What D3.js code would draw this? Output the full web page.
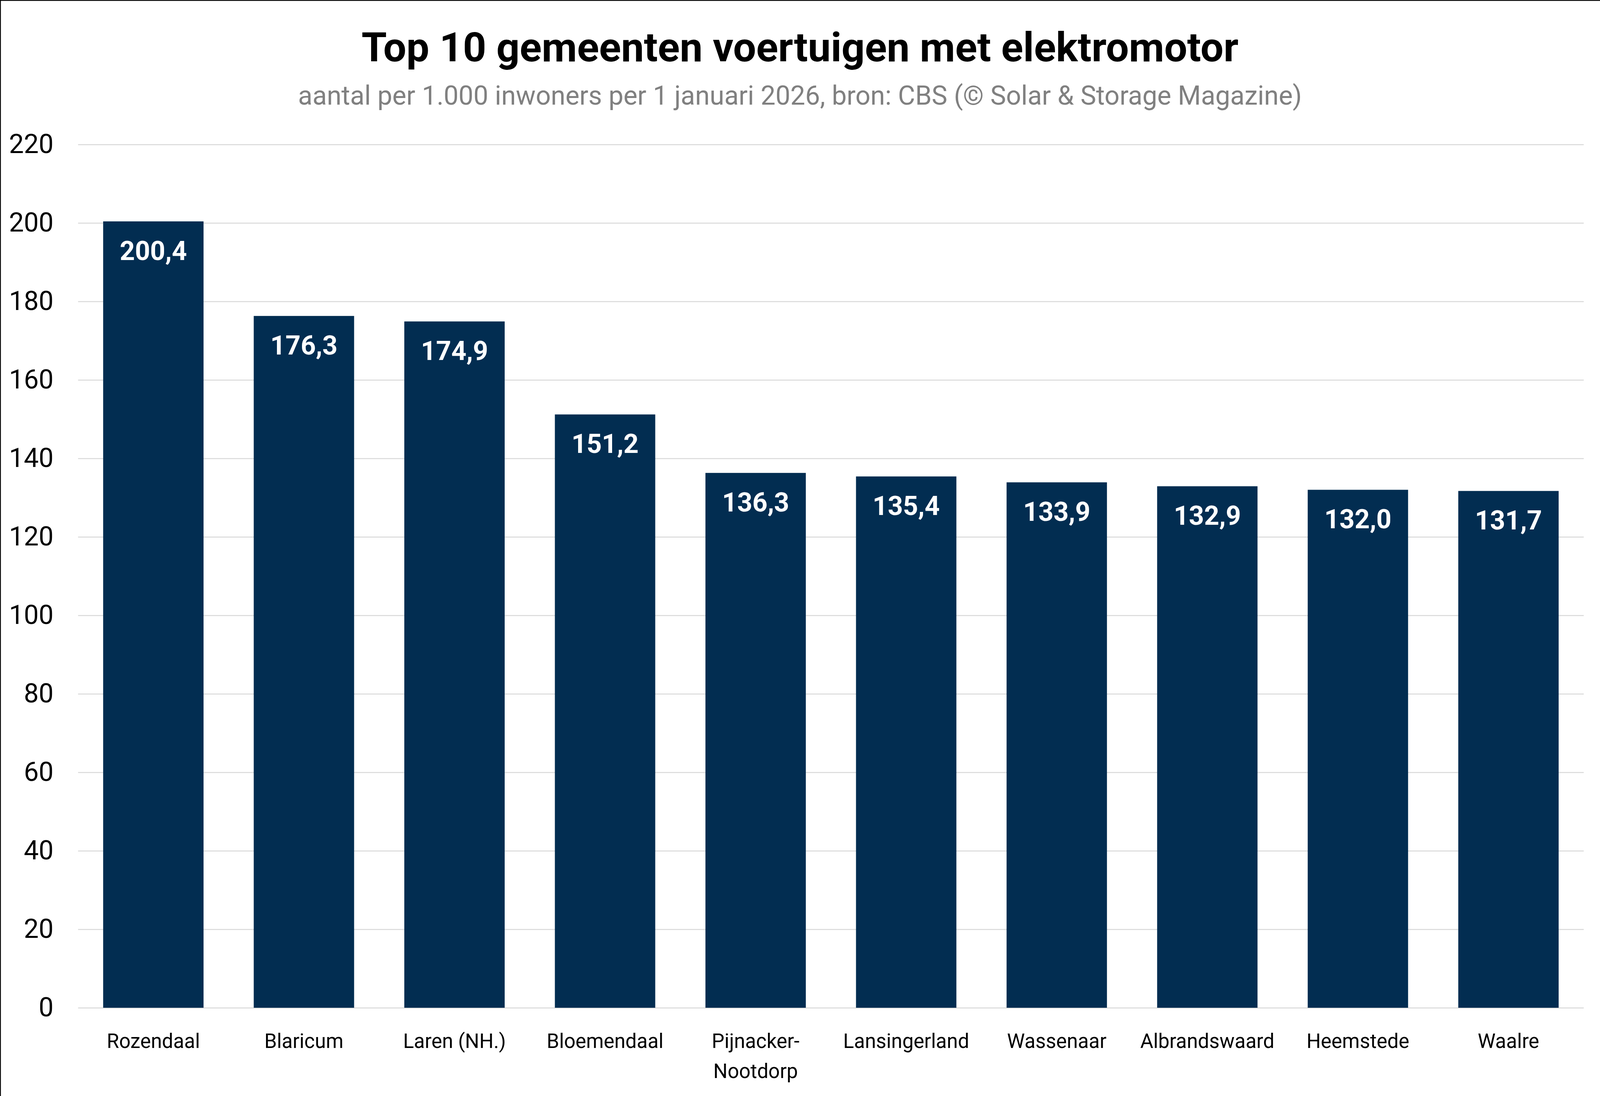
<!DOCTYPE html>
<html>
<head>
<meta charset="utf-8">
<script src="https://cdn.jsdelivr.net/npm/d3@7"></script>
<style>
  html, body { margin: 0; padding: 0; background: #ffffff; overflow: hidden; }
  svg { display: block; font-family: Roboto, "Noto Sans", sans-serif; }
</style>
</head>
<body>
<svg id="chart"></svg>
<script>
// ---- data ----
const title = "Top 10 gemeenten voertuigen met elektromotor";
const subtitle = "aantal per 1.000 inwoners per 1 januari 2026, bron: CBS (© Solar & Storage Magazine)";
const categories = ["Rozendaal", "Blaricum", "Laren (NH.)", "Bloemendaal", "Pijnacker-Nootdorp",
                    "Lansingerland", "Wassenaar", "Albrandswaard", "Heemstede", "Waalre"];
const values = [200.4, 176.3, 174.9, 151.2, 136.3, 135.4, 133.9, 132.9, 132.0, 131.7];
const yTicks = [0, 20, 40, 60, 80, 100, 120, 140, 160, 180, 200, 220];

// ---- layout (reference designed at 5021 x 2807, adapted to the viewport) ----
const W = window.innerWidth || 5021, H = window.innerHeight || 2807;
const sx = W / 5021, sy = H / 2807, f = Math.min(sx, sy);
const plot = { left: 245 * sx, right: 4970 * sx, top: 370 * sy, bottom: 2581 * sy };
const barColor = "#022d51";
const gridColor = "#d9d9d9";

const svg = d3.select("#chart").attr("width", W).attr("height", H);
svg.append("rect").attr("width", W).attr("height", H).attr("fill", "#ffffff");

// frame lines (top and left)
svg.append("line").attr("x1", 0).attr("x2", W).attr("y1", 1).attr("y2", 1)
  .attr("stroke", "#000").attr("stroke-width", 2.5);
svg.append("line").attr("x1", 1).attr("x2", 1).attr("y1", 0).attr("y2", H)
  .attr("stroke", "#000").attr("stroke-width", 2.5);

const x = d3.scaleBand().domain(categories).range([plot.left, plot.right])
  .paddingInner(1/3).paddingOuter(1/6);
const y = d3.scaleLinear().domain([0, 220]).range([plot.bottom, plot.top]);

// gridlines
const grid = svg.append("g").attr("transform", `translate(${plot.left},0)`)
  .call(d3.axisLeft(y).tickValues(yTicks).tickSize(-(plot.right - plot.left)).tickFormat(""));
grid.select(".domain").remove();
grid.selectAll("line").attr("stroke", gridColor).attr("stroke-width", 3 * f);

// y axis labels
const yAxis = svg.append("g").attr("transform", `translate(${plot.left},0)`)
  .call(d3.axisLeft(y).tickValues(yTicks).tickSize(0).tickPadding(77 * sx).tickFormat(d => d));
yAxis.select(".domain").remove();
yAxis.selectAll("text").attr("font-size", 83 * f).attr("fill", "#000")
  .attr("font-family", "Roboto, sans-serif");

// bars
svg.append("g").selectAll("rect").data(values).join("rect")
  .attr("x", (d, i) => x(categories[i]))
  .attr("width", x.bandwidth())
  .attr("y", d => y(d))
  .attr("height", d => y(0) - y(d))
  .attr("fill", barColor);

// value labels
const fmt = v => v.toFixed(1).replace(".", ",");
svg.append("g").selectAll("text").data(values).join("text")
  .attr("x", (d, i) => x(categories[i]) + x.bandwidth() / 2)
  .attr("y", d => y(d) + 99 * sy)
  .attr("text-anchor", "middle")
  .attr("font-size", 83 * f)
  .attr("font-weight", 700)
  .attr("fill", "#ffffff")
  .text(d => fmt(d));

// x labels (wrap after hyphen)
const xl = svg.append("g").selectAll("text").data(categories).join("text")
  .attr("text-anchor", "middle")
  .attr("font-size", 63 * f)
  .attr("fill", "#000");
xl.each(function(c) {
  const lines = c.split(/(?<=-)/);
  const t = d3.select(this);
  lines.forEach((ln, k) => {
    t.append("tspan")
      .attr("x", x(c) + x.bandwidth() / 2)
      .attr("y", (2684 + k * 77) * sy)
      .text(ln);
  });
});

// title and subtitle
svg.append("text").attr("x", W / 2).attr("y", 157 * sy)
  .attr("text-anchor", "middle").attr("font-size", 128 * f).attr("font-weight", 700)
  .attr("fill", "#000").text(title);
svg.append("text").attr("x", W / 2).attr("y", 268 * sy)
  .attr("text-anchor", "middle").attr("font-size", 83 * f)
  .attr("fill", "#808080").text(subtitle);
</script>
</body>
</html>
